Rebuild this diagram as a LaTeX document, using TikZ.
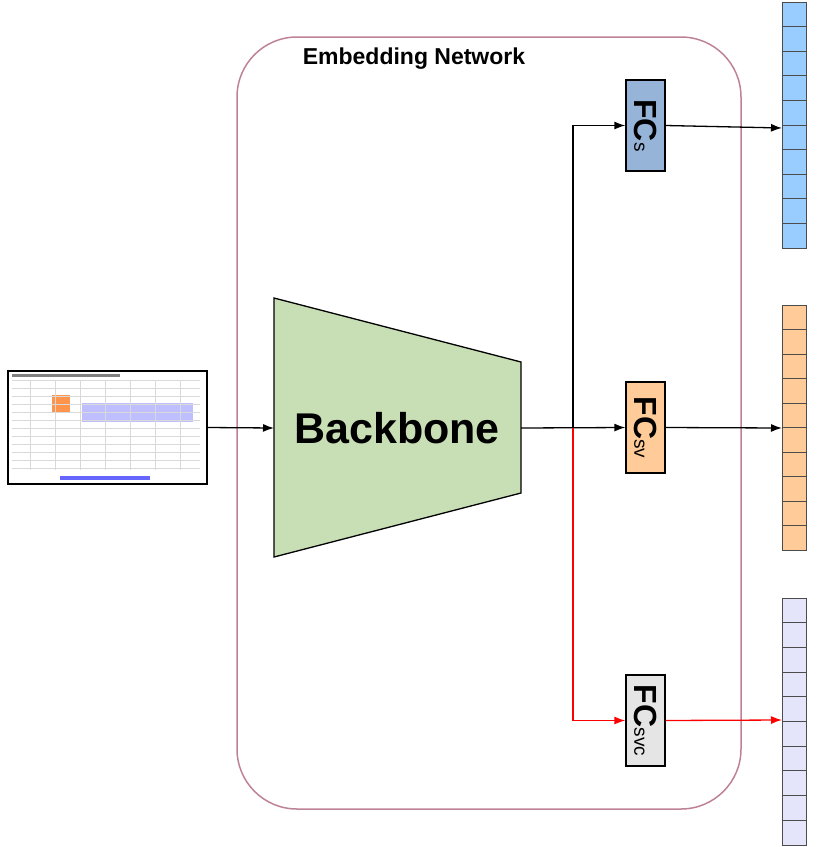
\documentclass[tikz,border=0pt]{standalone}
\usepackage{fontspec}
\setmainfont{Liberation Sans}
\usetikzlibrary{positioning,arrows.meta}
\definecolor{vecblue}{RGB}{153,204,255}
\definecolor{vecorange}{RGB}{255,204,153}
\definecolor{vecpurple}{RGB}{228,228,250}
\definecolor{bbgreen}{RGB}{200,222,180}
\definecolor{framepink}{RGB}{190,130,150}
\definecolor{fcblue}{RGB}{150,180,215}
\begin{document}
\begin{tikzpicture}[x=1pt,y=-1pt,
  fcbox/.style={draw,line width=1.3pt,minimum width=91pt,minimum height=39pt,inner sep=0pt,rotate=-90},
  vec/.style={draw=black!70,line width=0.9pt,fill=#1},
  arr/.style={-{Latex[length=11pt,width=8pt]},line width=1.3pt}]
  \useasboundingbox (0,0) rectangle (822,847);

  % Network frame
  \draw[line width=1.5pt,draw=framepink,rounded corners=60pt] (237,37) rectangle (741,809);
  \node[font=\bfseries\fontsize{23}{26}\selectfont] (title) at (414,59) {Embedding Network};

  % Input screenshot
  \node[draw,line width=1.2pt,fill=white,minimum width=199pt,minimum height=113pt,inner sep=0pt] (input) at (107.5,427.5) {};
  \fill[blue!25] (82,403) rectangle (193,422);
  \fill[red!60!yellow!70] (52,395) rectangle (70,412);
  \foreach \y in {380,388,...,468} \draw[black!15,thin] (12,\y) -- (200,\y);
  \foreach \x in {30,55,80,105,130,155,180} \draw[black!15,thin] (\x,380) -- (\x,470);
  \fill[black!50] (12,374) rectangle (120,377);
  \fill[blue!60] (60,476) rectangle (150,480);

  % Backbone
  \draw[line width=1.3pt,fill=bbgreen] (274,298) -- (521,362) -- (521,493) -- (274,557) -- cycle;
  \node[font=\bfseries\fontsize{43}{46}\selectfont] (backbone) at (397,428) {Backbone};
  \coordinate (bbin) at (274,428);
  \coordinate (bbout) at (521,428);
  \coordinate (split) at (573,428);

  % Heads
  \node[fcbox,fill=fcblue] (fcs) at (645.5,125.5) {\fontsize{32}{32}\selectfont\textbf{FC}\fontsize{19}{19}\selectfont s};
  \node[fcbox,fill=vecorange] (fcsv) at (645.5,427.5) {\fontsize{32}{32}\selectfont\textbf{FC}\fontsize{19}{19}\selectfont sv};
  \node[fcbox,fill=black!10] (fcsvc) at (645.5,720.5) {\fontsize{32}{32}\selectfont\textbf{FC}\fontsize{19}{19}\selectfont svc};

  % Output vectors
  \foreach \i in {0,...,9} {
    \draw[vec=vecblue] (782,2+\i*24.6) rectangle (806,2+\i*24.6+24.6);
    \draw[vec=vecorange] (782,305+\i*24.5) rectangle (806,305+\i*24.5+24.5);
    \draw[vec=vecpurple] (782,598+\i*24.7) rectangle (806,598+\i*24.7+24.7);
  }
  \coordinate (outs) at (782,128);
  \coordinate (outsv) at (782,428);
  \coordinate (outsvc) at (782,720);

  % Connectors
  \draw[arr] (input.east) -- (bbin);
  \draw[arr] (bbout) -- (fcsv.south);
  \draw[arr] (split) |- (fcs.south);
  \draw[arr,red] (split) |- (fcsvc.south);
  \draw[arr] (fcs.north) -- (outs);
  \draw[arr] (fcsv.north) -- (outsv);
  \draw[arr,red] (fcsvc.north) -- (outsvc);
\end{tikzpicture}
\end{document}
